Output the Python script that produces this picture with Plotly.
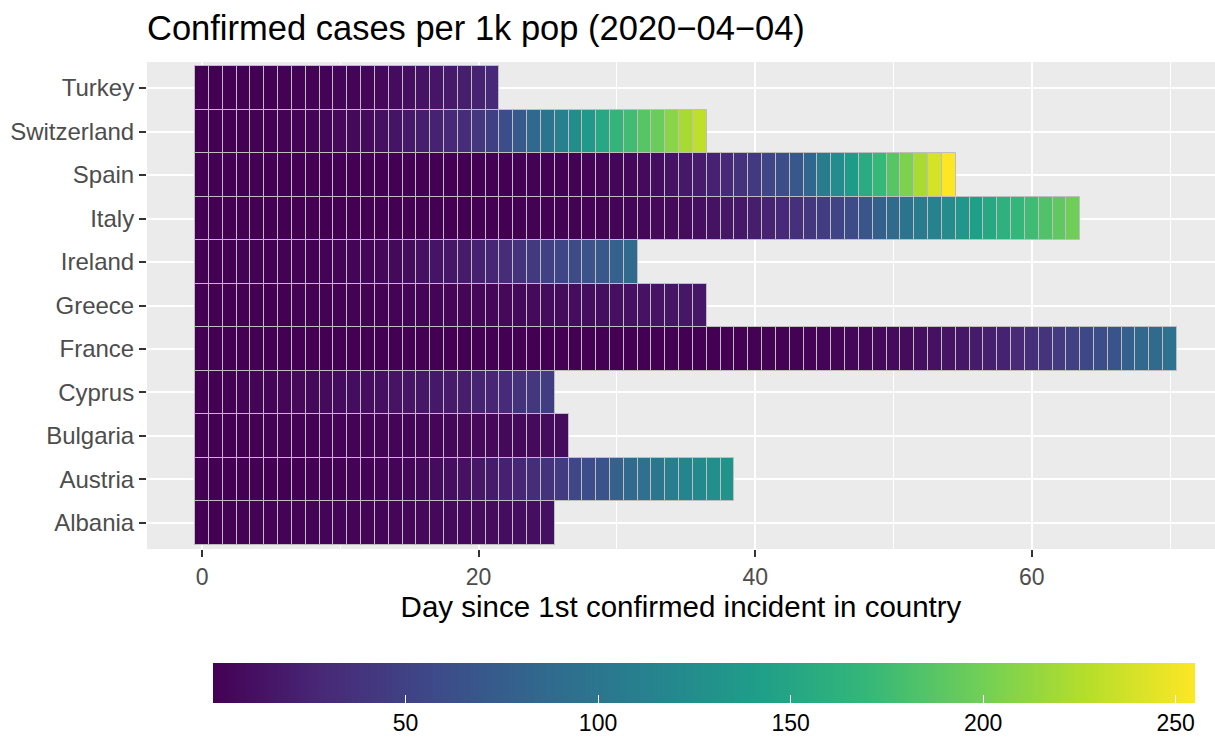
import plotly.graph_objects as go

# Countries, bottom to top as drawn
countries = ["Albania", "Austria", "Bulgaria", "Cyprus", "France", "Greece",
             "Ireland", "Italy", "Spain", "Switzerland", "Turkey"]

albania = [0.07, 0.35, 0.42, 0.80, 1.15, 1.33, 1.47, 1.78, 1.92, 2.06, 2.24, 2.45, 2.66,
           3.11, 3.64, 4.30, 5.10, 6.08, 6.50, 6.89, 7.41, 7.80, 8.50, 9.06, 9.69, 10.63]
austria = [0.02, 0.03, 0.03, 0.10, 0.16, 0.20, 0.24, 0.33, 0.46, 0.62, 0.89, 1.17, 1.48,
           2.05, 2.78, 3.41, 5.69, 7.39, 9.71, 11.47, 15.03, 18.58, 22.72, 26.95, 31.76,
           36.61, 44.29, 55.03, 59.62, 66.46, 79.33, 86.87, 93.35, 99.19, 108.56, 114.90,
           120.89, 125.61, 130.07]
bulgaria = [0.06, 0.06, 0.09, 0.10, 0.33, 0.59, 0.73, 0.74, 0.96, 1.31, 1.34, 1.81, 2.33,
            2.67, 2.87, 3.11, 3.46, 3.77, 4.19, 4.73, 4.94, 5.13, 5.70, 6.03, 6.53, 6.93, 7.19]
cyprus = [0.23, 0.34, 0.69, 1.60, 3.00, 3.10, 3.80, 5.30, 5.60, 6.60, 7.60, 8.60, 9.60,
          10.80, 13.20, 14.20, 15.10, 16.70, 18.50, 20.40, 24.40, 26.30, 29.90, 36.50,
          40.60, 45.20]
france = [0.00, 0.00, 0.00, 0.00, 0.01, 0.01, 0.01, 0.01, 0.01, 0.01, 0.01, 0.01, 0.01,
          0.01, 0.01, 0.02, 0.02, 0.02, 0.02, 0.02, 0.02, 0.02, 0.02, 0.02, 0.02, 0.02,
          0.02, 0.02, 0.02, 0.02, 0.02, 0.02, 0.02, 0.03, 0.06, 0.09, 0.15, 0.19, 0.29,
          0.32, 0.43, 0.63, 0.91, 1.05, 1.68, 2.11, 2.66, 3.40, 4.29, 5.46, 6.71, 8.09,
          9.90, 11.42, 13.50, 16.23, 18.82, 21.58, 23.91, 29.64, 33.29, 37.66, 43.51,
          49.20, 56.08, 59.96, 66.49, 77.80, 85.06, 88.22, 96.03]
greece = [0.03, 0.04, 0.07, 0.07, 0.07, 0.08, 0.29, 0.42, 0.62, 0.68, 0.78, 0.83, 0.92,
          1.09, 1.77, 2.13, 3.09, 3.09, 3.61, 3.90, 4.33, 4.62, 4.94, 5.82, 6.48, 6.93,
          7.66, 8.32, 9.01, 9.90, 10.78, 11.31, 12.26, 13.20, 14.40, 15.05, 15.61]
ireland = [0.04, 0.12, 0.27, 0.37, 0.39, 0.43, 0.49, 0.69, 0.88, 1.43, 1.84, 2.63, 3.45,
           4.55, 5.96, 7.47, 11.37, 13.94, 16.02, 18.49, 22.96, 27.12, 31.92, 37.12,
           43.29, 49.29, 53.37, 59.39, 66.02, 70.35, 78.55, 87.20]
italy = [0.00, 0.00, 0.00, 0.00, 0.00, 0.00, 0.00, 0.00, 0.00, 0.00, 0.00, 0.00, 0.00,
         0.00, 0.00, 0.00, 0.00, 0.00, 0.00, 0.00, 0.00, 0.03, 0.13, 0.25, 0.38, 0.53,
         0.66, 1.08, 1.47, 1.87, 2.81, 3.37, 4.15, 5.12, 6.39, 7.68, 9.75, 12.22, 15.20,
         16.81, 20.65, 25.04, 29.26, 35.05, 41.00, 46.36, 52.20, 59.17, 67.98, 77.90,
         88.76, 97.98, 105.91, 114.61, 123.24, 133.52, 143.30, 153.20, 161.84, 168.55,
         175.27, 183.19, 190.93, 198.52]
spain = [0.00, 0.00, 0.00, 0.00, 0.00, 0.00, 0.00, 0.00, 0.00, 0.00, 0.00, 0.00,
         0.00, 0.00, 0.00, 0.01, 0.01, 0.03, 0.03, 0.07, 0.09, 0.18, 0.24, 0.32, 0.42,
         0.55, 0.80, 0.92, 1.25, 2.20, 3.50, 4.60, 6.40, 9.00, 12.90, 16.50, 19.60, 23.80,
         29.20, 36.50, 42.60, 54.10, 60.90, 70.50, 84.50, 105.50, 123.10, 140.00, 156.00,
         170.70, 187.40, 204.30, 221.80, 238.70, 255.00]
switzerland = [0.01, 0.10, 0.20, 0.30, 0.50, 0.70, 1.10, 1.60, 2.50, 3.50, 5.00, 6.00,
               8.00, 11.00, 14.00, 17.00, 20.00, 24.00, 28.00, 33.00, 40.00, 48.00, 61.00,
               72.00, 85.00, 98.00, 111.00, 124.00, 137.00, 152.00, 167.00, 176.00,
               187.00, 196.00, 209.00, 221.00, 231.00]
turkey = [0.01, 0.01, 0.02, 0.06, 0.12, 0.23, 0.44, 0.82, 1.20, 1.60, 2.10, 2.70, 3.60,
          5.20, 7.50, 9.80, 12.20, 14.60, 17.60, 20.60, 24.00, 28.00]

series = [albania, austria, bulgaria, cyprus, france, greece,
          ireland, italy, spain, switzerland, turkey]

x_ticks = [0, 20, 40, 60]
cbar_ticks = [50, 100, 150, 200, 250]

# Build the tile table
tile_country, tile_day, tile_val = [], [], []
for name, vals in zip(countries, series):
    for day, v in enumerate(vals):
        tile_country.append(name)
        tile_day.append(day)
        tile_val.append(v)

vmin, vmax = min(tile_val), max(tile_val)

fig = go.Figure()
fig.add_trace(go.Bar(
    orientation="h",
    y=tile_country,
    x=[1] * len(tile_day),
    base=[d - 0.5 for d in tile_day],
    width=1,
    marker=dict(
        color=tile_val,
        colorscale="Viridis",
        cmin=vmin,
        cmax=vmax,
        line=dict(color="#BEBEBE", width=1),
        showscale=True,
        colorbar=dict(
            orientation="h",
            x=0.5215, xanchor="center",
            y=-0.234, yanchor="top",
            len=982, lenmode="pixels",
            thickness=40, thicknessmode="pixels",
            outlinewidth=0,
            xpad=0, ypad=0,
            tickvals=cbar_ticks,
            ticks="inside", ticklen=8, tickcolor="white", tickwidth=1,
            tickfont=dict(family="Liberation Sans", size=23, color="black"),
        ),
    ),
    hoverinfo="skip",
))

fig.update_layout(
    width=1215, height=737,
    margin=dict(l=147, r=0, t=62, b=188, autoexpand=False),
    paper_bgcolor="white",
    plot_bgcolor="#EBEBEB",
    showlegend=False,
    bargap=0,
    font=dict(family="Liberation Sans", size=24, color="#4D4D4D"),
    title=dict(
        text="Confirmed cases per 1k pop (2020\u221204\u221204)",
        x=147 / 1215, xanchor="left", xref="container",
        y=1 - 28 / 737, yanchor="middle", yref="container",
        font=dict(family="Liberation Sans", size=34.5, color="black"),
    ),
    xaxis=dict(
        range=[-3.98, 73.25],
        tickvals=x_ticks,
        showgrid=True, gridcolor="white", gridwidth=2.4,
        minor=dict(dtick=10, tick0=0, showgrid=True, gridcolor="white", gridwidth=1.2),
        zeroline=False,
        ticks="outside", ticklen=7, tickwidth=1.5, tickcolor="#333333",
        tickfont=dict(size=23, color="#4D4D4D"),
        title=dict(text="Day since 1st confirmed incident in country",
                   font=dict(size=29.5, color="black"), standoff=6),
        showline=False,
    ),
    yaxis=dict(
        type="category",
        categoryorder="array", categoryarray=countries,
        range=[-0.6, len(countries) - 0.4],
        showgrid=True, gridcolor="white", gridwidth=2.4,
        zeroline=False,
        ticks="outside", ticklen=7, tickwidth=1.5, tickcolor="#333333",
        tickfont=dict(size=24, color="#4D4D4D"),
        showline=False,
    ),
)

fig.write_html("out.html", config={"displayModeBar": False},
               post_script="document.body.style.margin='0';")
